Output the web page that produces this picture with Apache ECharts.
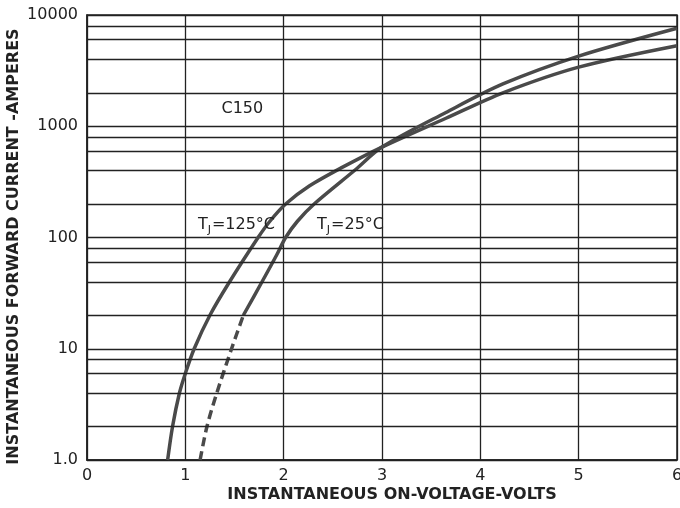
<!DOCTYPE html>
<html>
<head>
<meta charset="utf-8">
<script src="https://cdn.jsdelivr.net/npm/echarts@6/dist/echarts.min.js"></script>
<style>
  html, body { margin: 0; padding: 0; background: #fff; }
  #chart { width: 680px; height: 508px; }
</style>
</head>
<body>
<div id="chart"></div>
<script>
// forward characteristic
var tj125 = [
  [0.82, 1], [0.87, 2], [0.94, 4], [1.0, 6], [1.09, 10], [1.25, 20],
  [1.45, 40], [1.74, 100], [1.86, 140], [2.02, 200], [2.26, 290], [2.58, 420],
  [3.0, 650], [3.65, 1180], [4.23, 2000],
  [5.0, 3400], [6.0, 5300]
];
var tj25Dashed = [
  [1.15, 1], [1.22, 2], [1.32, 4], [1.47, 10], [1.59, 20]
];
var tj25 = [
  [1.59, 20], [1.78, 40], [1.93, 70], [2.02, 100], [2.14, 140], [2.31, 200],
  [2.72, 400], [3.0, 650], [3.65, 1330], [4.23, 2400],
  [5.0, 4270], [6.0, 7600]
];
// graph paper minor lines (2,4,6,8 per decade)
var minorLines = [2, 4, 6, 8, 20, 40, 60, 80, 200, 400, 600, 800, 2000, 4000, 6000, 8000];

var gridColor = '#222';
var curveColor = '#4a4a4a';
var font = 'DejaVu Sans';

var curveStyle = { color: curveColor, width: 3.5 };

var option = {
  animation: false,
  grid: {
    left: 87, right: 3, top: 15, bottom: 48,
    outerBoundsMode: 'none',
    containLabel: false,
    show: true, borderColor: gridColor, borderWidth: 1.5
  },
  xAxis: {
    type: 'value',
    min: 0, max: 6, interval: 1,
    name: 'INSTANTANEOUS ON-VOLTAGE-VOLTS',
    nameLocation: 'middle',
    nameGap: 27,
    nameMoveOverlap: false,
    nameTextStyle: { fontFamily: font, fontWeight: 'bold', fontSize: 16, color: '#222', padding: [0, 0, 0, 20] },
    axisLine: { lineStyle: { color: gridColor, width: 1.5 } },
    axisTick: { show: false },
    axisLabel: { fontFamily: font, fontSize: 16, color: '#222', margin: 8 },
    splitLine: { show: true, lineStyle: { color: gridColor, width: 1.3 } }
  },
  yAxis: {
    type: 'log',
    logBase: 10,
    min: 1, max: 10000,
    name: 'INSTANTANEOUS FORWARD CURRENT -AMPERES',
    nameLocation: 'middle',
    nameGap: 65,
    nameMoveOverlap: false,
    nameRotate: 90,
    nameTextStyle: { fontFamily: font, fontWeight: 'bold', fontSize: 16, color: '#222', padding: [0, 18, 0, 0] },
    axisLine: { show: true, lineStyle: { color: gridColor, width: 1.5 } },
    axisTick: { show: false },
    axisLabel: {
      fontFamily: font, fontSize: 16, color: '#222', margin: 9,
      formatter: function (v) { return v === 1 ? '1.0' : String(v); }
    },
    splitLine: { show: true, lineStyle: { color: gridColor, width: 1.3 } }
  },
  series: [
    {
      name: 'TJ=125',
      type: 'line',
      data: tj125,
      smooth: 0.3,
      symbol: 'none',
      lineStyle: curveStyle,
      markLine: {
        silent: true,
        symbol: ['none', 'none'],
        label: { show: false },
        lineStyle: { color: gridColor, width: 1.3, type: 'solid' },
        data: minorLines.map(function (v) { return { yAxis: v }; })
      },
      markPoint: {
        symbol: 'rect',
        symbolSize: 0,
        label: {
          show: true,
          position: 'inside',
          fontFamily: font,
          fontSize: 16,
          color: '#222',
          formatter: function (p) { return p.name; },
          rich: {
            t: { fontFamily: font, fontSize: 16, color: '#222', lineHeight: 22, verticalAlign: 'middle' },
            s: { fontFamily: font, fontSize: 11, color: '#222', lineHeight: 22, verticalAlign: 'bottom', padding: [9, 1, 0, 0] }
          }
        },
        data: [
          { name: 'C150', coord: [1.58, 1420] },
          { name: '{t|T}{s|J}{t|=125°C}', coord: [1.52, 131] },
          { name: '{t|T}{s|J}{t|=25°C}', coord: [2.68, 131] }
        ]
      }
    },
    {
      name: 'TJ=25 dashed',
      type: 'line',
      data: tj25Dashed,
      smooth: 0.3,
      symbol: 'none',
      lineStyle: { color: curveColor, width: 3.5, type: [9, 5] }
    },
    {
      name: 'TJ=25',
      type: 'line',
      data: tj25,
      smooth: 0.3,
      symbol: 'none',
      lineStyle: curveStyle
    }
  ]
};

var myChart = echarts.init(document.getElementById('chart'));
myChart.setOption(option);
</script>
</body>
</html>
